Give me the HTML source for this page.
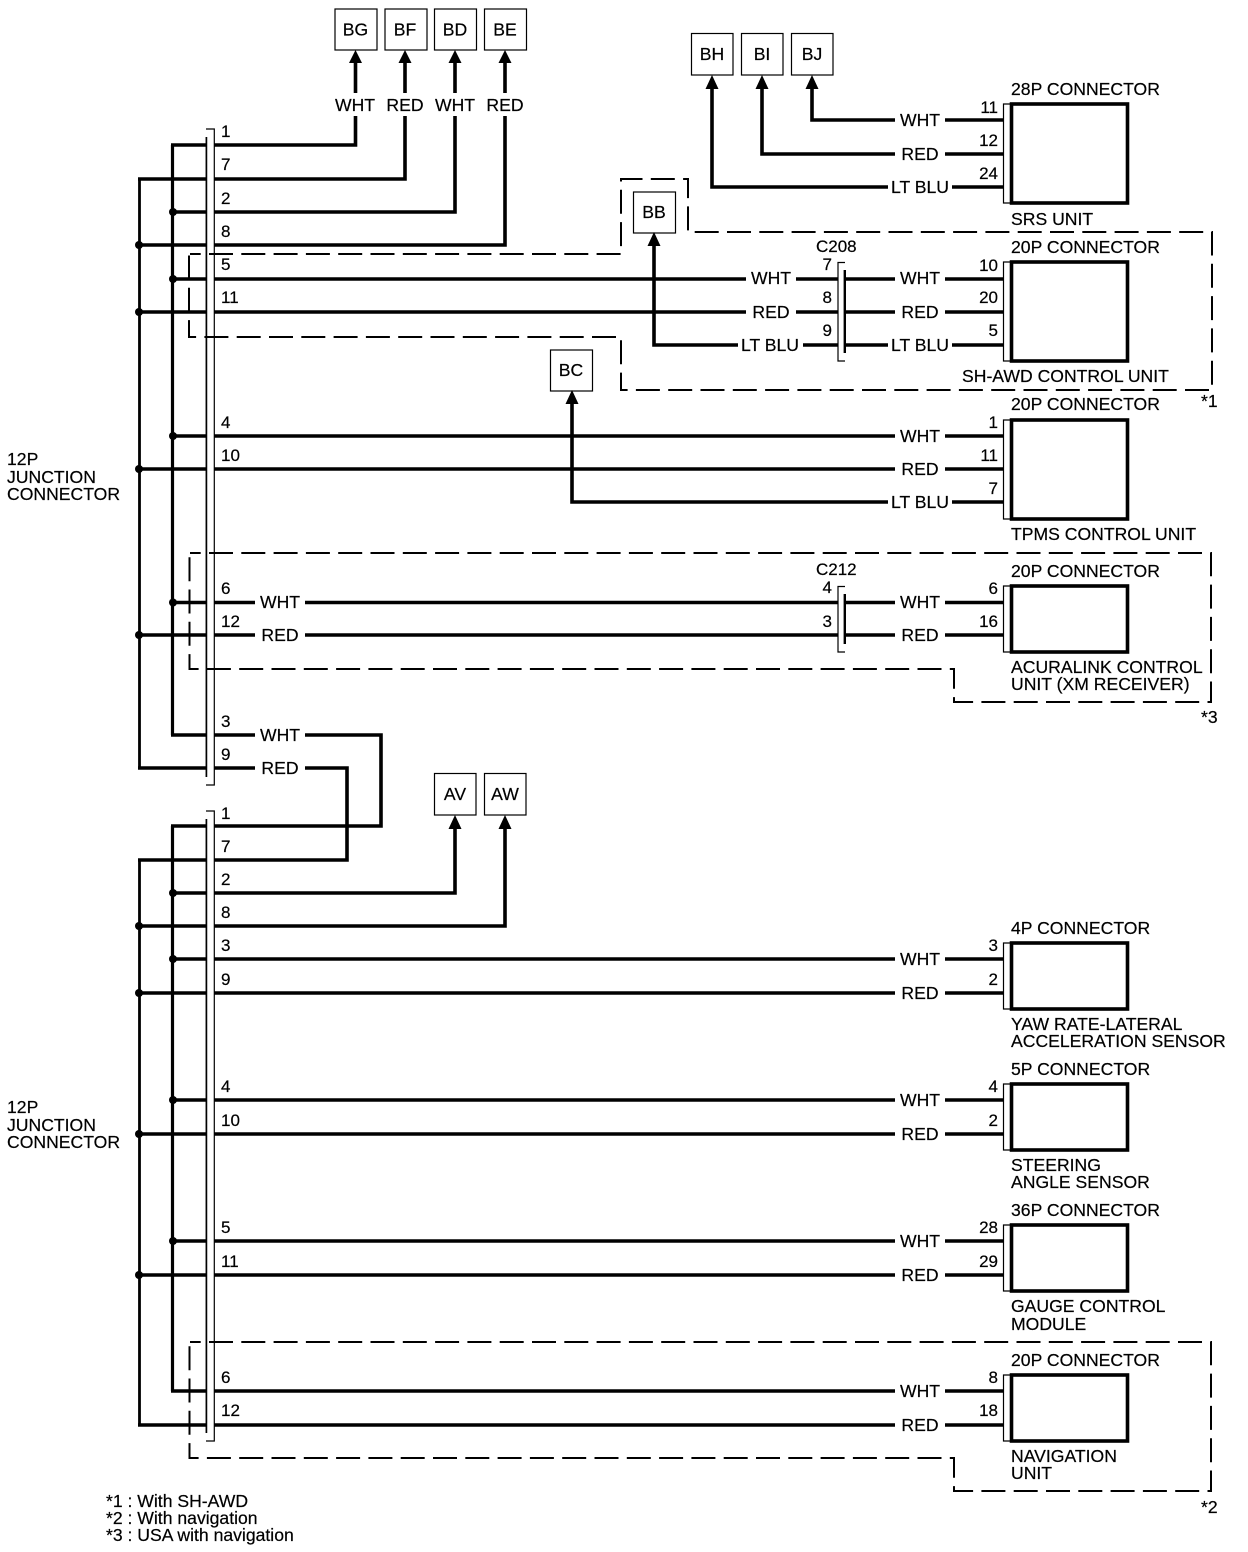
<!DOCTYPE html>
<html><head><meta charset="utf-8"><title>Wiring diagram</title>
<style>
html,body{margin:0;padding:0;background:#fff}
svg{display:block}
text{font-family:"Liberation Sans",Arial,sans-serif;font-size:17.6px;fill:#000;stroke:#000;stroke-width:.2}
.m{text-anchor:middle}
.r{text-anchor:end}
.n{font-size:17px}
.w{fill:none;stroke:#000;stroke-width:3.6}
.t{fill:none;stroke:#000;stroke-width:1.2}
.d{fill:none;stroke:#000;stroke-width:2;stroke-dasharray:24 8.3;stroke-dashoffset:13.3}
.b{fill:#fff;stroke:#000;stroke-width:1.2}
</style></head><body>
<svg xmlns="http://www.w3.org/2000/svg" width="1248" height="1552" viewBox="0 0 1248 1552">
<rect width="1248" height="1552" fill="#fff"/>

<!-- verticals -->
<path d="M172.500 735V145M172.500 1391V826" fill="none" stroke="#000" stroke-width="3.200"/>
<path d="M139.500 768V179M139.500 1425V860" fill="none" stroke="#000" stroke-width="2.800"/>

<!-- top block wires -->
<path class="w" d="M171 145H355.500V116M355.500 93V60"/>
<path class="w" d="M138 179H405V116M405 93V60"/>
<path class="w" d="M173 212H455V116M455 93V60"/>
<path class="w" d="M139 245H505V116M505 93V60"/>
<path class="w" d="M173 279H746M796 279H838M845 279H895M945 279H1003"/>
<path class="w" d="M139 312H746M796 312H838M845 312H895M945 312H1003"/>
<path class="w" d="M654 240V345H738M803 345H838M845 345H888M952 345H1003"/>
<path class="w" d="M173 436H895M945 436H1003"/>
<path class="w" d="M139 469H895M945 469H1003"/>
<path class="w" d="M572 400V502H888M952 502H1003"/>
<path class="w" d="M173 602.500H255M305 602.500H838M845 602.500H895M945 602.500H1003"/>
<path class="w" d="M139 635H255M305 635H838M845 635H895M945 635H1003"/>
<path class="w" d="M171 735H255M305 735H381V826H171"/>
<path class="w" d="M138 768H255M305 768H347V860H138"/>
<!-- SRS wires -->
<path class="w" d="M812 85V120H895M945 120H1003"/>
<path class="w" d="M762 85V154H895M945 154H1003"/>
<path class="w" d="M712 85V187H888M952 187H1003"/>
<!-- bottom block wires -->
<path class="w" d="M173 893H455V825"/>
<path class="w" d="M139 926H505V825"/>
<path class="w" d="M173 959H895M945 959H1003"/>
<path class="w" d="M139 993H895M945 993H1003"/>
<path class="w" d="M173 1100H895M945 1100H1003"/>
<path class="w" d="M139 1134H895M945 1134H1003"/>
<path class="w" d="M173 1241H895M945 1241H1003"/>
<path class="w" d="M139 1275H895M945 1275H1003"/>
<path class="w" d="M171 1391H895M945 1391H1003"/>
<path class="w" d="M138 1425H895M945 1425H1003"/>

<!-- dots -->
<g fill="#000">
<circle cx="173" cy="212" r="4"/><circle cx="139" cy="245" r="4"/><circle cx="173" cy="279" r="4"/><circle cx="139" cy="312" r="4"/>
<circle cx="173" cy="436" r="4"/><circle cx="139" cy="469" r="4"/><circle cx="173" cy="602.500" r="4"/><circle cx="139" cy="635" r="4"/>
<circle cx="173" cy="893" r="4"/><circle cx="139" cy="926" r="4"/><circle cx="173" cy="959" r="4"/><circle cx="139" cy="993" r="4"/>
<circle cx="173" cy="1100" r="4"/><circle cx="139" cy="1134" r="4"/><circle cx="173" cy="1241" r="4"/><circle cx="139" cy="1275" r="4"/>
</g>

<!-- junction bars -->
<rect x="207" y="129" width="7" height="656" fill="#fff"/>
<rect x="207" y="811" width="7" height="630" fill="#fff"/>
<path class="t" d="M206 129H214.300V785H206M206 811H214.300V1441H206"/>
<path d="M206.400 137V777M206.400 819V1433" stroke="#000" stroke-width="1.700" fill="none"/>

<!-- dashed regions -->
<path class="d" d="M190 254H621V179H688V232H1212V390H621V337H189V254"/>
<path class="d" d="M190 553H1211V702H954V669H189.500V553"/>
<path class="d" d="M190 1342H1211V1491H954V1458H189.500V1342"/>

<!-- inline connectors -->
<rect x="839" y="263" width="5" height="98" fill="#fff"/>
<rect x="839" y="587" width="5" height="65" fill="#fff"/>
<path class="t" d="M845 262.500H838V361H845"/>
<path d="M844.800 270V353" stroke="#000" stroke-width="2.400" fill="none"/>
<path class="t" d="M845 586.500H838V652H845"/>
<path d="M844.800 594V644" stroke="#000" stroke-width="2.400" fill="none"/>

<!-- unit boxes -->
<g>
<path class="t" d="M1011 104H1003.500V203H1011"/><rect class="w" x="1011.500" y="104" width="116" height="99"/>
<path class="t" d="M1011 262H1003.500V361H1011"/><rect class="w" x="1011.500" y="262" width="116" height="99"/>
<path class="t" d="M1011 420H1003.500V519H1011"/><rect class="w" x="1011.500" y="420" width="116" height="99"/>
<path class="t" d="M1011 586H1003.500V652H1011"/><rect class="w" x="1011.500" y="586" width="116" height="66"/>
<path class="t" d="M1011 943H1003.500V1009H1011"/><rect class="w" x="1011.500" y="943" width="116" height="66"/>
<path class="t" d="M1011 1084H1003.500V1150H1011"/><rect class="w" x="1011.500" y="1084" width="116" height="66"/>
<path class="t" d="M1011 1225H1003.500V1291H1011"/><rect class="w" x="1011.500" y="1225" width="116" height="66"/>
<path class="t" d="M1011 1375H1003.500V1441H1011"/><rect class="w" x="1011.500" y="1375" width="116" height="66"/>
</g>

<!-- small boxes -->
<rect class="b" x="335" y="9" width="42" height="41"/><rect class="b" x="385" y="9" width="42" height="41"/>
<rect class="b" x="434.500" y="9" width="42" height="41"/><rect class="b" x="484.500" y="9" width="42" height="41"/>
<rect class="b" x="691.500" y="33.500" width="41.500" height="41.500"/><rect class="b" x="741.500" y="33.500" width="41.500" height="41.500"/><rect class="b" x="791.500" y="33.500" width="41.500" height="41.500"/>
<rect class="b" x="633.500" y="192" width="42" height="41"/><rect class="b" x="550.500" y="350" width="42" height="41"/>
<rect class="b" x="434.500" y="773.500" width="41.500" height="41.500"/><rect class="b" x="484.500" y="773.500" width="41.500" height="41.500"/>

<!-- arrowheads -->
<g fill="#000">
<path d="M355.500 50l-6.500 13h13zM405 50l-6.500 13h13zM455 50l-6.500 13h13zM505 50l-6.500 13h13z"/>
<path d="M712 75l-6.500 14h13zM762 75l-6.500 14h13zM812 75l-6.500 14h13z"/>
<path d="M654 232l-6.500 14h13zM572 390l-6.500 14h13z"/>
<path d="M455 815l-6.500 14h13zM505 815l-6.500 14h13z"/>
</g>

<text class="m" x="355.500" y="35.500">BG</text><text class="m" x="405" y="35.500">BF</text><text class="m" x="455" y="35.500">BD</text><text class="m" x="505" y="35.500">BE</text>
<text class="m" x="712" y="60">BH</text><text class="m" x="762" y="60">BI</text><text class="m" x="812" y="60">BJ</text>
<text class="m" x="654" y="218">BB</text><text class="m" x="571" y="376">BC</text>
<text class="m" x="455" y="800">AV</text><text class="m" x="505" y="800">AW</text>
<text class="m" x="355" y="111">WHT</text><text class="m" x="405" y="111">RED</text><text class="m" x="455" y="111">WHT</text><text class="m" x="505" y="111">RED</text>

<!-- wire colour labels -->
<text class="m" x="920" y="126">WHT</text><text class="m" x="920" y="160">RED</text><text class="m" x="920" y="193">LT BLU</text>
<text class="m" x="771" y="284">WHT</text><text class="m" x="771" y="318">RED</text><text class="m" x="770" y="351">LT BLU</text>
<text class="m" x="920" y="284">WHT</text><text class="m" x="920" y="318">RED</text><text class="m" x="920" y="351">LT BLU</text>
<text class="m" x="920" y="442">WHT</text><text class="m" x="920" y="475">RED</text><text class="m" x="920" y="508">LT BLU</text>
<text class="m" x="280" y="608">WHT</text><text class="m" x="280" y="641">RED</text>
<text class="m" x="920" y="608">WHT</text><text class="m" x="920" y="641">RED</text>
<text class="m" x="280" y="741">WHT</text><text class="m" x="280" y="774">RED</text>
<text class="m" x="920" y="965">WHT</text><text class="m" x="920" y="999">RED</text>
<text class="m" x="920" y="1106">WHT</text><text class="m" x="920" y="1140">RED</text>
<text class="m" x="920" y="1247">WHT</text><text class="m" x="920" y="1281">RED</text>
<text class="m" x="920" y="1397">WHT</text><text class="m" x="920" y="1431">RED</text>

<!-- junction pin numbers -->
<g>
<text class="n" x="221" y="137">1</text><text class="n" x="221" y="170">7</text><text class="n" x="221" y="204">2</text><text class="n" x="221" y="237">8</text>
<text class="n" x="221" y="270">5</text><text class="n" x="221" y="303">11</text><text class="n" x="221" y="428">4</text><text class="n" x="221" y="461">10</text>
<text class="n" x="221" y="594">6</text><text class="n" x="221" y="627">12</text><text class="n" x="221" y="727">3</text><text class="n" x="221" y="760">9</text>
<text class="n" x="221" y="819">1</text><text class="n" x="221" y="852">7</text><text class="n" x="221" y="885">2</text><text class="n" x="221" y="918">8</text>
<text class="n" x="221" y="951">3</text><text class="n" x="221" y="985">9</text><text class="n" x="221" y="1092">4</text><text class="n" x="221" y="1126">10</text>
<text class="n" x="221" y="1233">5</text><text class="n" x="221" y="1267">11</text><text class="n" x="221" y="1383">6</text><text class="n" x="221" y="1416">12</text>
</g>

<!-- unit pin numbers -->
<text class="n r" x="998" y="113">11</text><text class="n r" x="998" y="146">12</text><text class="n r" x="998" y="179">24</text>
<text class="n r" x="998" y="271">10</text><text class="n r" x="998" y="303">20</text><text class="n r" x="998" y="336">5</text>
<text class="n r" x="998" y="428">1</text><text class="n r" x="998" y="461">11</text><text class="n r" x="998" y="494">7</text>
<text class="n r" x="998" y="594">6</text><text class="n r" x="998" y="627">16</text>
<text class="n r" x="998" y="951">3</text><text class="n r" x="998" y="985">2</text>
<text class="n r" x="998" y="1092">4</text><text class="n r" x="998" y="1126">2</text>
<text class="n r" x="998" y="1233">28</text><text class="n r" x="998" y="1267">29</text>
<text class="n r" x="998" y="1383">8</text><text class="n r" x="998" y="1416">18</text>

<!-- C208 / C212 -->
<text x="816" y="252" class="n">C208</text>
<text class="n r" x="832" y="270">7</text><text class="n r" x="832" y="303">8</text><text class="n r" x="832" y="336">9</text>
<text x="816" y="575" class="n">C212</text>
<text class="n r" x="832" y="593">4</text><text class="n r" x="832" y="627">3</text>

<!-- unit labels -->
<text x="1011" y="95">28P CONNECTOR</text><text x="1011" y="225">SRS UNIT</text>
<text x="1011" y="253">20P CONNECTOR</text><text x="962" y="382">SH-AWD CONTROL UNIT</text>
<text x="1011" y="410">20P CONNECTOR</text><text x="1011" y="540">TPMS CONTROL UNIT</text>
<text x="1011" y="577">20P CONNECTOR</text><text x="1011" y="673">ACURALINK CONTROL</text><text x="1011" y="690">UNIT (XM RECEIVER)</text>
<text x="1011" y="934">4P CONNECTOR</text><text x="1011" y="1030">YAW RATE-LATERAL</text><text x="1011" y="1047">ACCELERATION SENSOR</text>
<text x="1011" y="1075">5P CONNECTOR</text><text x="1011" y="1171">STEERING</text><text x="1011" y="1188">ANGLE SENSOR</text>
<text x="1011" y="1216">36P CONNECTOR</text><text x="1011" y="1312">GAUGE CONTROL</text><text x="1011" y="1330">MODULE</text>
<text x="1011" y="1366">20P CONNECTOR</text><text x="1011" y="1462">NAVIGATION</text><text x="1011" y="1479">UNIT</text>

<!-- notes -->
<text x="1201" y="407">*1</text><text x="1201" y="723">*3</text><text x="1201" y="1513">*2</text>

<text x="7" y="465">12P</text><text x="7" y="483">JUNCTION</text><text x="7" y="500">CONNECTOR</text>
<text x="7" y="1113">12P</text><text x="7" y="1131">JUNCTION</text><text x="7" y="1148">CONNECTOR</text>

<text x="106" y="1507">*1 : With SH-AWD</text>
<text x="106" y="1524">*2 : With navigation</text>
<text x="106" y="1541">*3 : USA with navigation</text>
</svg>
</body></html>
